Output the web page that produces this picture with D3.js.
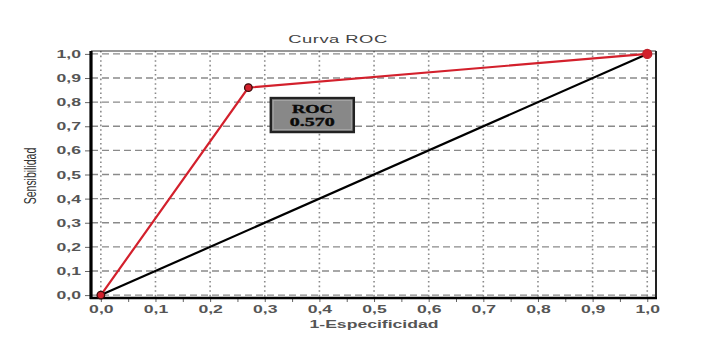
<!DOCTYPE html>
<html><head><meta charset="utf-8">
<script src="https://cdn.jsdelivr.net/npm/d3@7/dist/d3.min.js"></script>
<style>body{margin:0;background:#fff}svg{display:block}</style>
</head><body>
<svg id="c" width="725" height="349"></svg>
<script>
// ---- data ----
const rocX = [0, 0.27, 1];
const rocY = [0, 0.86, 1];
const diagX = [0, 1];
const diagY = [0, 1];
const xTicks = [0,0.1,0.2,0.3,0.4,0.5,0.6,0.7,0.8,0.9,1.0];
const yTicks = [0,0.1,0.2,0.3,0.4,0.5,0.6,0.7,0.8,0.9,1.0];
const xMinor = [0.05,0.15,0.25,0.35,0.45,0.55,0.65,0.75,0.85,0.95];
const title = "Curva ROC";
const xLabel = "1-Especificidad";
const yLabel = "Sensibilidad";
const boxText = ["ROC", "0.570"];

const SX = 1.6; // horizontal stretch of text
const svg = d3.select("#c");
const x = d3.scaleLinear().domain([-0.018, 1.016]).range([91, 656]);
const y = d3.scaleLinear().domain([-0.012, 1.012]).range([298, 51]);
const fmt = d => d3.format(".1f")(d).replace(".", ",");

// grid
const grid = svg.append("g");
grid.selectAll("line.v").data(xTicks).join("line")
  .attr("x1", d => x(d)).attr("x2", d => x(d))
  .attr("y1", y.range()[1]).attr("y2", y.range()[0])
  .attr("stroke", "#8a8a8a").attr("stroke-width", 1.6).attr("stroke-dasharray", "1.6,3");
grid.selectAll("line.h").data(yTicks).join("line")
  .attr("y1", d => y(d)).attr("y2", d => y(d))
  .attr("x1", x.range()[0]).attr("x2", x.range()[1])
  .attr("stroke", "#8a8a8a").attr("stroke-width", 1.3).attr("stroke-dasharray", "7,4");

// axes
const ax = svg.append("g").attr("transform", "translate(0,298)")
  .call(d3.axisBottom(x).tickValues(xTicks).tickFormat(fmt).tickSize(4));
const axm = svg.append("g").attr("transform", "translate(0,298)")
  .call(d3.axisBottom(x).tickValues(xMinor).tickFormat("").tickSize(4));
const ay = svg.append("g").attr("transform", "translate(91,0)")
  .call(d3.axisLeft(y).tickValues(yTicks).tickFormat(fmt).tickSize(6));
[ax, axm, ay].forEach(g => {
  g.select(".domain").remove();
  g.selectAll(".tick line").attr("stroke", "#666").attr("stroke-width", 1);
});
ax.selectAll(".tick text").attr("y", 7).attr("transform", `scale(${SX},1)`)
  .attr("font-family", "Liberation Sans, Arial, sans-serif").attr("font-weight", "bold")
  .attr("font-size", 11).attr("fill", "#555");
ay.selectAll(".tick text").attr("x", -10 / SX).attr("transform", `scale(${SX},1)`)
  .attr("font-family", "Liberation Sans, Arial, sans-serif").attr("font-weight", "bold")
  .attr("font-size", 11).attr("fill", "#555");

// frame
const [x0, x1] = x.range(), [y0, y1] = y.range();
svg.append("line").attr("x1", x0).attr("x2", x1).attr("y1", y1).attr("y2", y1).attr("stroke", "#333").attr("stroke-width", 1.2);
svg.append("line").attr("x1", x1).attr("x2", x1).attr("y1", y1).attr("y2", y0).attr("stroke", "#222").attr("stroke-width", 2);
svg.append("line").attr("x1", x0 - 1).attr("x2", x1 + 1).attr("y1", y0).attr("y2", y0).attr("stroke", "#000").attr("stroke-width", 2.6);
svg.append("line").attr("x1", x0).attr("x2", x0).attr("y1", y1).attr("y2", y0 + 1).attr("stroke", "#000").attr("stroke-width", 3.2);

// lines
const line = d3.line().x(d => x(d[0])).y(d => y(d[1]));
svg.append("path").datum(d3.zip(diagX, diagY)).attr("d", line)
  .attr("fill", "none").attr("stroke", "#000").attr("stroke-width", 2.2);
svg.append("path").datum(d3.zip(rocX, rocY)).attr("d", line)
  .attr("fill", "none").attr("stroke", "#d3202c").attr("stroke-width", 2.2);
svg.selectAll("circle.p").data(d3.zip(rocX, rocY)).join("circle")
  .attr("cx", d => x(d[0])).attr("cy", d => y(d[1])).attr("r", (d, i) => i === 2 ? 4.5 : 3.8)
  .attr("fill", "#d3202c").attr("stroke", (d, i) => i === 2 ? "#c0202a" : "#3a0a0a").attr("stroke-width", 1.3);

// ROC box
const bx = x(0.311), by = y(0.817), bw = x(0.463) - x(0.311), bh = y(0.676) - y(0.817);
svg.append("rect").attr("x", bx).attr("y", by).attr("width", bw).attr("height", bh)
  .attr("fill", "#888").attr("stroke", "#222").attr("stroke-width", 2.4);
svg.append("rect").attr("x", bx + 2.5).attr("y", by + 2.5).attr("width", bw - 5).attr("height", bh - 5)
  .attr("fill", "none").attr("stroke", "#a8a8a8").attr("stroke-width", 0.8);
boxText.forEach((t, i) => {
  svg.append("text").attr("transform", `translate(${bx + bw / 2},${by + 14.5 + i * 13}) scale(${SX},1)`)
    .attr("text-anchor", "middle").attr("font-family", "Liberation Serif, Times New Roman, serif")
    .attr("font-weight", "bold").attr("font-size", i === 0 ? 11.5 : 12.5).attr("fill", "#0a0a0a")
    .attr("stroke", "#0a0a0a").attr("stroke-width", 0.35).text(t);
});

// titles
svg.append("text").attr("transform", `translate(338,43) scale(${SX},1)`)
  .attr("text-anchor", "middle").attr("font-family", "Liberation Sans, Arial, sans-serif")
  .attr("font-size", 11.5).attr("fill", "#444").attr("letter-spacing", 0.3).text(title);
svg.append("text").attr("transform", `translate(374,328) scale(${SX},1)`)
  .attr("text-anchor", "middle").attr("font-family", "Liberation Sans, Arial, sans-serif")
  .attr("font-weight", "bold").attr("font-size", 11).attr("fill", "#555").text(xLabel);
svg.append("text").attr("transform", `translate(36,176) scale(${SX},1) rotate(-90)`)
  .attr("text-anchor", "middle").attr("font-family", "Liberation Sans Narrow, Liberation Sans, Arial, sans-serif")
  .attr("font-size", 10.5).attr("fill", "#333").text(yLabel);
</script>
</body></html>
